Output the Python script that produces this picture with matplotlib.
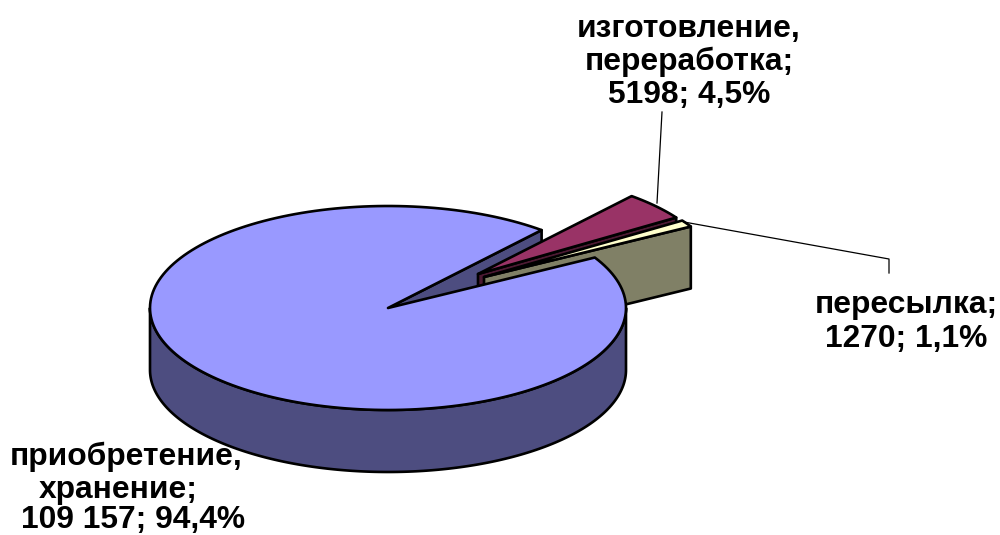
"""3D style pie: purchase / manufacture / shipping shares."""
import numpy as np
import matplotlib
matplotlib.use("Agg")
import matplotlib.pyplot as plt
from matplotlib.patches import Polygon

plt.rcParams["font.family"] = ["Liberation Sans", "DejaVu Sans"]

values = [109157, 5198, 1270]
blue_label = ["приобретение,", "хранение;", "109 157; 94,4%"]
maroon_label = ["изготовление,", "переработка;", "5198; 4,5%"]
cream_label = ["пересылка;", "1270; 1,1%"]

top_colors = ["#9999FF", "#993366", "#FFFFCC"]
side_colors = ["#4D4D80", "#4D1A33", "#808066"]

# pixel layout of the pie
cx, cy = 388, 308
rx, ry = 238, 102
depth = 62
start_angle = 49.8  # slices run clockwise from here: maroon, cream, then blue
offsets = {0: (0, 0), 1: (90, -34), 2: (96, -31)}

shares = np.array(values) / sum(values) * 360


def rim(a0, a1, dx=0, dy=0, n=200):
    t = np.radians(np.linspace(a0, a1, n))
    return np.column_stack([cx + dx + rx * np.cos(t), cy + dy - ry * np.sin(t)])


def down(pts):
    return pts + np.array([0, depth])


def poly(ax, pts, fc):
    ax.add_patch(Polygon(pts, closed=True, fc=fc, ec="black", lw=1.9, joinstyle="round"))


def top_face(ax, i, a0, a1):
    dx, dy = offsets[i]
    apex = np.array([[cx + dx, cy + dy]])
    poly(ax, np.vstack([apex, rim(a0, a1, dx, dy)]), top_colors[i])


def cut_face(ax, i, angle):
    dx, dy = offsets[i]
    apex = np.array([[cx + dx, cy + dy]])
    edge = rim(angle, angle, dx, dy, n=1)
    poly(ax, np.vstack([apex, edge, down(edge), down(apex)]), side_colors[i])


fig = plt.figure(figsize=(10, 5.35), dpi=100)
ax = fig.add_axes([0, 0, 1, 1])
ax.set_xlim(0, 1000)
ax.set_ylim(535, 0)
ax.axis("off")

a_man = (start_angle, start_angle - shares[1])
a_post = (a_man[1], a_man[1] - shares[2])
a_blue = (a_post[1], start_angle - 360)

# leader lines
ax.plot([662, 657], [112, 203], color="black", lw=0.9)
ax.plot([684, 889, 889], [222, 259, 273], color="black", lw=0.9)

# back to front
cut_face(ax, 0, start_angle)

cut_face(ax, 1, a_man[1])
top_face(ax, 1, *a_man)

cut_face(ax, 2, a_post[1])
top_face(ax, 2, *a_post)

front = rim(180, 360)
poly(ax, np.vstack([front, down(front)[::-1]]), side_colors[0])
top_face(ax, 0, *a_blue)

label_style = dict(fontsize=22.9, fontweight="bold", ha="center", va="center", linespacing=1.136)
ax.text(689, 62, "\n".join(maroon_label), **label_style)
ax.text(906, 322, "\n".join(cream_label), **label_style)
# the three lines of this label do not share a centre in the original
baseline_style = dict(fontsize=22.9, fontweight="bold", ha="center", va="baseline")
for line, x, y in zip(blue_label, [126, 118, 133], [465, 498, 528]):
    ax.text(x, y, line, **baseline_style)

fig.savefig("out.png", dpi=100)
plt.close(fig)
